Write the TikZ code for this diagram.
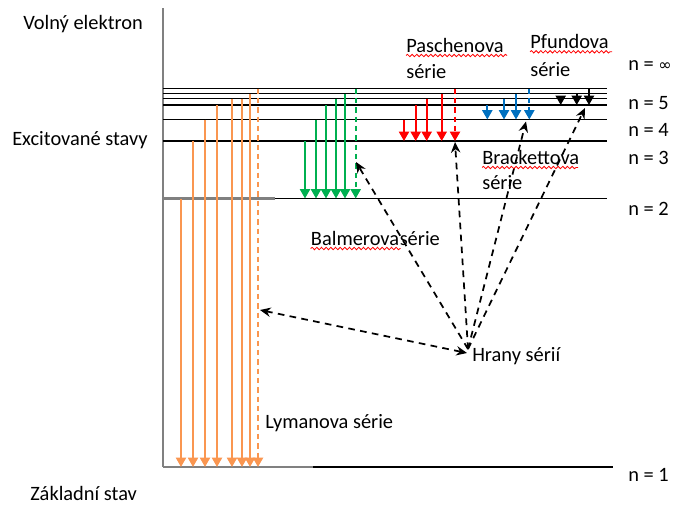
\documentclass[tikz,border=0pt]{standalone}
\usepackage{fontspec}
\setmainfont{Carlito}
\newfontfamily\symfont{DejaVu Sans}
\usetikzlibrary{arrows.meta,decorations.pathmorphing}
\definecolor{lyo}{RGB}{250,150,80}
\definecolor{bag}{RGB}{0,176,80}
\definecolor{par}{RGB}{255,0,0}
\definecolor{brb}{RGB}{0,112,192}
\definecolor{axg}{RGB}{128,128,128}
\begin{document}
\begin{tikzpicture}[x=0.75pt,y=-0.75pt,
  lvl/.style={line width=1.2pt},
  tr/.style={line width=1.5pt,-{Triangle[length=7pt,width=7.5pt]}},
  edg/.style={tr,dash pattern=on 4pt off 3pt},
  lab/.style={inner sep=0pt,anchor=base west,font=\fontsize{15.3}{18}\selectfont},
  ptr/.style={line width=1.3pt,dash pattern=on 5pt off 4pt,-{Stealth[length=8pt,width=7pt]}},
  sq/.style={red,line width=0.6pt,decorate,decoration={snake,amplitude=0.9pt,segment length=3.5pt}}]
\useasboundingbox[fill=white] (0,0) rectangle (674,504);
\def\yI{467}\def\yII{198.5}\def\yIII{141}\def\yIV{119.5}\def\yV{105}\def\yVI{98.5}\def\yVII{93.5}\def\yInf{88.5}
% axis
\draw[axg,line width=1.5pt] (163,8) -- (163,\yI);
% levels
\foreach \y in {\yInf,\yVII,\yVI,\yV,\yIV,\yIII}{\draw[lvl] (163,\y) -- (607,\y);}
\draw[lvl] (163,\yII) -- (607,\yII);
\draw[axg,line width=1.6pt] (163,\yII) -- (275,\yII);
\draw[lvl] (163,\yI) -- (613,\yI);
\draw[axg,line width=1.8pt] (163,\yI) -- (313,\yI);
% Lyman
\begin{scope}[lyo]
\foreach \x/\y in {181/\yII,193/\yIII,205/\yIV,217/\yV,232/\yVI,242/\yVI,250/\yVII}{\draw[tr] (\x,\y) -- (\x,\yI);}
\draw[edg] (258,\yInf) -- (258,\yI);
\end{scope}
% Balmer
\begin{scope}[bag]
\foreach \x/\y in {305/\yIII,316/\yIV,326/\yV,336/\yVI,345/\yVII}{\draw[tr] (\x,\y) -- (\x,\yII);}
\draw[edg] (355.7,\yInf) -- (355.7,\yII);
\end{scope}
% Paschen
\begin{scope}[par]
\foreach \x/\y in {404/\yIV,415.7/\yV,426.7/\yVI,441.7/\yVII}{\draw[tr] (\x,\y) -- (\x,\yIII);}
\draw[edg] (455,\yInf) -- (455,\yIII);
\end{scope}
% Brackett
\begin{scope}[brb]
\foreach \x/\y in {487.3/\yV,504/\yVI,516/\yVII}{\draw[tr] (\x,\y) -- (\x,\yIV);}
\draw[edg] (529.3,\yInf) -- (529.3,\yIV);
\end{scope}
% Pfund
\foreach \x/\y in {560.7/\yVI,576.7/\yVII,589/\yInf}{\draw[tr] (\x,\y) -- (\x,\yV);}
% series edges pointers
\coordinate (hr) at (468,349);
\coordinate (hrL) at (467,353);
\coordinate (eL) at (260,310);
\coordinate (eB) at (356,162);
\coordinate (eP) at (455,142);
\coordinate (eBr) at (526,121.5);
\coordinate (ePf) at (585,108);
\draw[ptr,{Stealth[length=8pt,width=7pt]}-{Stealth[length=8pt,width=7pt]}] (hrL) -- (eL);
\draw[ptr] (hr) -- (eB);
\draw[ptr] (hr) -- (eP);
\draw[ptr] (hr) -- (eBr);
\draw[ptr] (hr) -- (ePf);
% labels
\node[lab] (volny) at (23,29.3) {Volný elektron};
\node[lab] (exc) at (12,145) {Excitované stavy};
\node[lab] (zakl) at (30,500) {Základní stav};
\node[lab] (pas) at (406,52) {Paschenova};
\node[lab] (pass) at (406,78) {série};
\node[lab] (pfu) at (530,48.3) {Pfundova};
\node[lab] (pfus) at (530,76) {série};
\node[lab] (bra) at (482,164) {Brackettova};
\node[lab] (bras) at (482,189) {série};
\node[lab] (bal) at (310.7,245) {Balmerova\hspace{0.5pt}série};
\node[lab] (lym) at (265,428.3) {Lymanova série};
\node[lab] (hrany) at (472,361.7) {Hrany sérií};
\node[lab] (ninf) at (628,70) {n = {\symfont\fontsize{12}{12}\selectfont ∞}};
\node[lab] (n5) at (628,109.3) {n = 5};
\node[lab] (n4) at (628,136) {n = 4};
\node[lab] (n3) at (628,164.3) {n = 3};
\node[lab] (n2) at (628,215.7) {n = 2};
\node[lab] (n1) at (628,481.7) {n = 1};
% spell-check squiggles
\draw[sq] (pas.base west) ++(0,3.5) -- ++(101,0);
\draw[sq] (pfu.base west) ++(0,3.5) -- ++(82,0);
\draw[sq] (bra.base west) ++(0,3.5) -- ++(96,0);
\draw[sq] (bal.base west) ++(0,3.5) -- ++(90,0);
\end{tikzpicture}
\end{document}
